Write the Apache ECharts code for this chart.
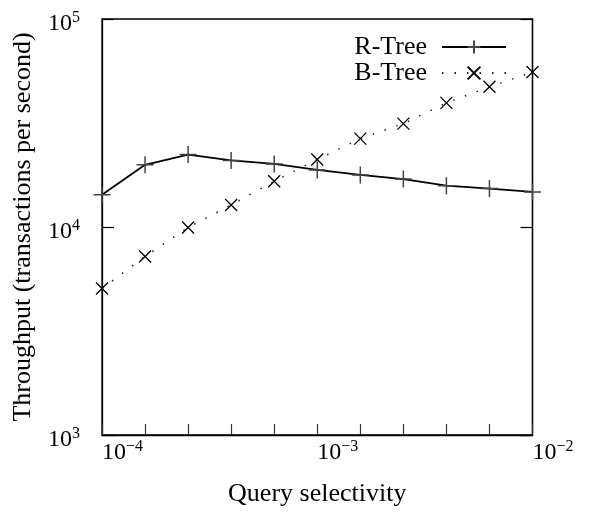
<!DOCTYPE html>
<html>
<head>
<meta charset="utf-8">
<script src="https://cdn.jsdelivr.net/npm/echarts@6/dist/echarts.min.js"></script>
<style>
    html, body { margin: 0; padding: 0; background: #fff; }
    #chart { width: 590px; height: 512px; }
</style>
</head>
<body>
<div id="chart"></div>
<script>
// query selectivity (x)
const selectivity = [0.0001, 0.0001585, 0.0002512, 0.0003981, 0.000631, 0.001, 0.001585, 0.002512, 0.003981, 0.00631, 0.01];
// throughput, transactions per second
const rTree = [14300, 19900, 22300, 20900, 20100, 18800, 17800, 17000, 15800, 15300, 14750];
const bTree = [5060, 7220, 9950, 12750, 16600, 21100, 26600, 31400, 39500, 47200, 55600];

const serif = 'Liberation Serif';
const plusPath = 'path://M0,-1L0,1M-1,0L1,0';
const crossPath = 'path://M-1,-1L1,1M-1,1L1,-1';

// 10^n als rich text
function powLabel(exp) {
    const e = exp < 0 ? '\u2212' + Math.abs(exp) : String(exp);
    return '{b|10}{s|' + e + '}';
}
const richPow = {
    b: { fontFamily: serif, fontSize: 24, color: '#000', lineHeight: 27 },
    s: { fontFamily: serif, fontSize: 16, color: '#000', lineHeight: 16, verticalAlign: 'top' }
};

const myChart = echarts.init(document.getElementById('chart'));
myChart.setOption({
    animation: false,
    grid: {
        left: 102,
        right: 57.5,
        top: 19,
        bottom: 72,
        show: true,
        borderColor: '#000',
        borderWidth: 1.3
    },
    legend: {
        right: 78,
        top: 29,
        orient: 'vertical',
        align: 'right',
        itemWidth: 64,
        itemHeight: 16,
        itemGap: 0,
        textStyle: { fontFamily: serif, fontSize: 26, color: '#000', padding: [0, 10, 0, 0] },
        data: ['R-Tree', 'B-Tree']
    },
    xAxis: {
        type: 'value',
        min: -4,
        max: -2,
        interval: 0.2,
        name: 'Query selectivity',
        nameLocation: 'middle',
        nameGap: 46,
        nameTextStyle: { fontFamily: serif, fontSize: 26, color: '#000' },
        splitLine: { show: false },
        axisLine: { lineStyle: { color: '#000', width: 1.3 } },
        axisTick: { inside: true, length: 11, lineStyle: { color: '#333', width: 1.2 } },
        axisLabel: {
            margin: 4,
            align: 'left',
            fontFamily: serif,
            fontSize: 24,
            formatter: function (v) {
                const r = Math.round(v);
                return Math.abs(v - r) < 1e-6 ? powLabel(r) : '';
            },
            rich: richPow
        }
    },
    yAxis: [
        {
            type: 'log',
            logBase: 10,
            min: 1000,
            max: 100000,
            name: 'Throughput (transactions per second)',
            nameLocation: 'middle',
            nameRotate: 90,
            nameGap: 66,
            nameTextStyle: { fontFamily: serif, fontSize: 26, color: '#000' },
            splitLine: { show: false },
            axisLine: { lineStyle: { color: '#000', width: 1.3 } },
            axisTick: { inside: true, length: 12, lineStyle: { color: '#000', width: 1.2 } },
            axisLabel: {
                margin: 22,
                padding: [9, 0, 0, 0],
                fontFamily: serif,
                fontSize: 24,
                formatter: function (v) {
                    return powLabel(Math.round(Math.log10(v)));
                },
                rich: richPow
            }
        },
        {
            type: 'log',
            logBase: 10,
            min: 1000,
            max: 100000,
            position: 'right',
            splitLine: { show: false },
            axisLine: { lineStyle: { color: '#000', width: 1.3 } },
            axisTick: { inside: true, length: 12, lineStyle: { color: '#000', width: 1.2 } },
            axisLabel: { show: false }
        }
    ],
    series: [
        {
            name: 'R-Tree',
            type: 'line',
            clip: false,
            symbol: plusPath,
            symbolSize: 17,
            showAllSymbol: true,
            itemStyle: { color: 'transparent', borderColor: '#444', borderWidth: 1.5 },
            lineStyle: { color: '#000', width: 1.8 },
            data: selectivity.map((s, i) => [Math.log10(s), rTree[i]])
        },
        {
            name: 'B-Tree',
            type: 'line',
            clip: false,
            symbol: crossPath,
            symbolSize: 12,
            showAllSymbol: true,
            itemStyle: { color: 'transparent', borderColor: '#000', borderWidth: 1.3 },
            lineStyle: { color: '#222', width: 1.5, type: [1.5, 11] },
            data: selectivity.map((s, i) => [Math.log10(s), bTree[i]])
        }
    ]
});
</script>
</body>
</html>
